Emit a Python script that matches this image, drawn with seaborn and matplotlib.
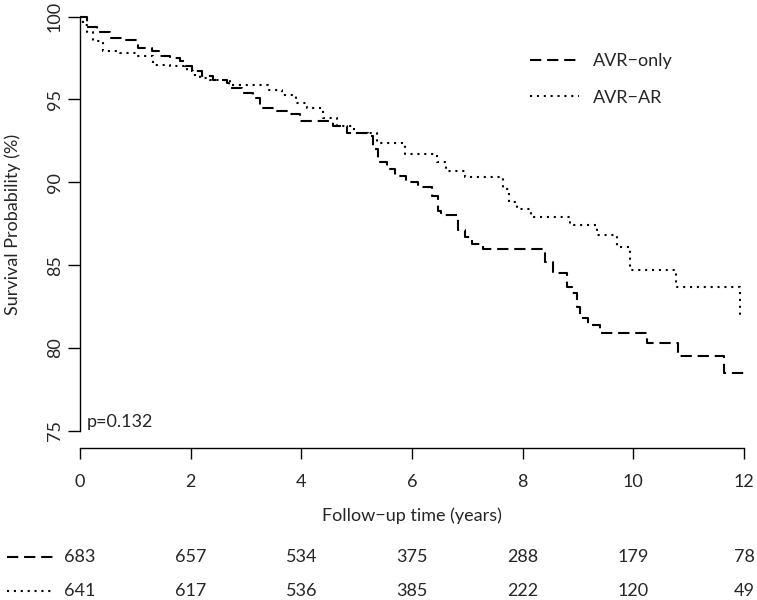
import matplotlib
matplotlib.use("Agg")
import matplotlib.pyplot as plt
import matplotlib.transforms as mtransforms
from matplotlib.lines import Line2D
import seaborn as sns
import pandas as pd

# Kaplan-Meier step estimates (time in years, survival in %)
avr_only_time = [0, 0.12, 0.30, 0.54, 0.84, 1.05, 1.30, 1.45, 1.63, 1.80, 1.90, 2.02,
                 2.20, 2.40, 2.66, 2.70, 2.93, 3.13, 3.25, 3.56, 3.80, 3.97, 4.57, 4.82,
                 5.20, 5.30, 5.39, 5.54, 5.70, 5.90, 6.10, 6.36, 6.47, 6.52, 6.83, 6.96,
                 7.08, 7.28, 8.40, 8.55, 8.80, 8.89, 8.98, 9.04, 9.18, 9.40, 10.24, 10.81,
                 11.64, 12.0]
avr_only_surv = [100, 99.4, 99.1, 98.7, 98.6, 98.1, 97.9, 97.6, 97.5, 97.3, 97.0, 96.7,
                 96.4, 96.2, 96.0, 95.7, 95.4, 95.1, 94.5, 94.3, 94.1, 93.7, 93.4, 93.0,
                 92.8, 92.0, 91.2, 90.8, 90.4, 90.0, 89.7, 89.2, 88.3, 88.0, 87.1, 86.7,
                 86.3, 86.0, 85.2, 84.5, 83.7, 83.3, 82.5, 81.8, 81.4, 80.9, 80.3, 79.5,
                 78.5, 78.5]

avr_ar_time = [0, 0.05, 0.12, 0.24, 0.42, 0.72, 1.03, 1.32, 1.63, 1.93, 2.04, 2.17,
               2.35, 2.65, 2.71, 3.40, 3.65, 3.90, 4.10, 4.40, 4.65, 4.95, 5.36, 5.87,
               6.45, 6.62, 6.95, 7.65, 7.75, 7.90, 8.15, 8.86, 9.34, 9.70, 9.94, 10.78,
               11.93]
avr_ar_surv = [100, 99.5, 99.1, 98.5, 97.9, 97.8, 97.6, 97.1, 97.0, 96.7, 96.5, 96.3,
               96.2, 96.1, 95.9, 95.6, 95.3, 94.8, 94.5, 93.9, 93.4, 93.0, 92.4, 91.7,
               91.2, 90.7, 90.3, 89.6, 88.8, 88.4, 87.9, 87.4, 86.8, 86.1, 84.7, 83.7,
               82.0]

groups = ["AVR\u2212only", "AVR\u2212AR"]
risk_times = [0, 2, 4, 6, 8, 10, 12]
risk_avr_only = [683, 657, 534, 375, 288, 179, 78]
risk_avr_ar = [641, 617, 536, 385, 222, 120, 49]
p_value = "p=0.132"

df = pd.concat([
    pd.DataFrame({"time": avr_only_time, "surv": avr_only_surv, "group": groups[0]}),
    pd.DataFrame({"time": avr_ar_time, "surv": avr_ar_surv, "group": groups[1]}),
])

sns.set_style("ticks")
plt.rcParams["font.family"] = ["Lato", "DejaVu Sans"]
FS = 13
plt.rcParams["font.size"] = FS

W, H = 757, 600
fig = plt.figure(figsize=(W / 100, H / 100), dpi=100)
ax = fig.add_axes([80 / W, (H - 448) / H, 664 / W, 438 / H])

dash_styles = {groups[0]: (5.4, 2.8), groups[1]: (1, 2.3)}
sns.lineplot(data=df, x="time", y="surv", style="group", dashes=dash_styles,
             color="black", linewidth=1.5, drawstyle="steps-post",
             estimator=None, legend=False, ax=ax)
for ln in ax.lines:
    ln.set_clip_on(False)

ax.set_xlim(0, 12)
ax.set_ylim(73.97, 100.4)
ax.set_xticks(risk_times)
ax.set_yticks([75, 80, 85, 90, 95, 100])
ax.spines["top"].set_visible(False)
ax.spines["right"].set_visible(False)
ax.spines["left"].set_bounds(75, 100)
ax.spines["bottom"].set_bounds(0, 12)
for s in ("left", "bottom"):
    ax.spines[s].set_color("black")
    ax.spines[s].set_linewidth(1.0)
ax.tick_params(axis="y", length=8.5, width=1.0, color="black", pad=4, labelsize=FS)
ax.tick_params(axis="x", length=8, width=1.0, color="black", pad=11, labelsize=FS)
plt.setp(ax.get_yticklabels(), rotation=90, va="center")

ax.set_xlabel("Follow\u2212up time (years)", fontsize=FS)
ax.xaxis.label.set_va("center")
ax.xaxis.set_label_coords(0.5, (448 - 516) / 438)
ax.set_ylabel("Survival Probability (%)", fontsize=FS)
ax.yaxis.label.set_va("center")
ax.yaxis.set_label_coords((13 - 80) / 664, (448 - 224) / 438)

ax.text(0.01, (448 - 422) / 438, p_value, transform=ax.transAxes,
        ha="left", va="center", fontsize=FS)

handles = [Line2D([], [], color="black", lw=1.5, dashes=dash_styles[g]) for g in groups]
ax.legend(handles, groups, loc="upper left", frameon=False,
          bbox_to_anchor=(530 / W, 1 - 53 / H), bbox_transform=fig.transFigure,
          borderpad=0, borderaxespad=0, handlelength=2.7, handletextpad=0.8,
          labelspacing=1.15, fontsize=FS)

# number-at-risk table below the axis
trans = mtransforms.blended_transform_factory(ax.transData, fig.transFigure)
for counts, g, ypix in [(risk_avr_only, groups[0], 557), (risk_avr_ar, groups[1], 591)]:
    yf = 1 - ypix / H
    for t, n in zip(risk_times, counts):
        ax.text(t, yf, str(n), transform=trans, ha="center", va="center",
                fontsize=FS, clip_on=False)
    fig.add_artist(Line2D([7 / W, 55 / W], [yf, yf], transform=fig.transFigure,
                          color="black", lw=1.5, dashes=dash_styles[g]))

fig.savefig("out.png", dpi=100)
